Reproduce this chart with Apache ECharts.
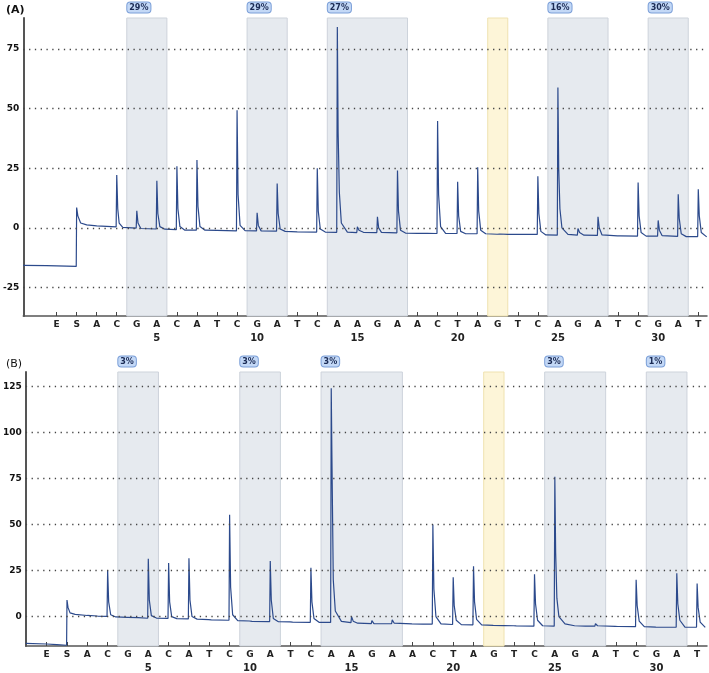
<!DOCTYPE html>
<html>
<head>
    <meta charset="UTF-8">
    <title>Pyrogram A / B</title>
    <script src="https://cdn.jsdelivr.net/npm/echarts@6.0.0/dist/echarts.min.js"></script>
    <style>
        html, body { margin: 0; padding: 0; background: #fff; }
        #pyro { width: 709px; height: 673px; }
    </style>
</head>
<body>
<div id="pyro"></div>
<script type="text/javascript">
    // dispensation order (index 0 = E, 1 = S, then 1..31)
    var seq = ['E','S','A','C','G','A','C','A','T','C','G','A','T','C','A','A','G','A','A','C','T','A','G','T','C','A','G','A','T','C','G','A','T'];
    var seqNumbers = [5, 10, 15, 20, 25, 30];

    // shaded positions
    var bands = [[3.5, 5.5], [9.5, 11.5], [13.5, 17.5], [24.5, 27.5], [29.5, 31.5]];
    var yellowBand = [21.5, 22.5];
    var pctA = ['29%', '29%', '27%', '16%', '30%'];
    var pctB = ['3%', '3%', '3%', '3%', '1%'];

    var gridLinesA = [-25, 0, 25, 50, 75];
    var gridLinesB = [0, 25, 50, 75, 100, 125];

    // trace A, [dispensation position, signal]
    var traceA = [
        [-1.66,-15.8],[-0.5,-15.9],[0.5,-16.1],[0.98,-16.2],[1.0,8.5],[1.06,5],[1.2,2],[1.5,1.2],[2.0,0.8],[2.5,0.6],[2.97,0.4],
        [3.0,22.1],[3.05,8],[3.12,2],[3.3,0.2],[3.97,-0.1],
        [4.0,7.1],[4.06,2],[4.2,-0.3],[4.97,-0.5],
        [5.0,19.7],[5.05,6],[5.15,0.5],[5.4,-0.6],[5.97,-0.8],
        [6.0,25.8],[6.05,8],[6.15,0.5],[6.4,-1],[6.97,-1],
        [7.0,28.4],[7.05,9],[7.15,0.5],[7.4,-1],[8.0,-1.1],[8.97,-1.3],
        [9.0,49.3],[9.05,14],[9.15,1],[9.4,-1.2],[9.97,-1.3],
        [10.0,6.3],[10.06,1],[10.2,-1.3],[10.97,-1.4],
        [11.0,18.6],[11.05,6],[11.15,-0.5],[11.4,-1.5],[12.0,-1.7],[12.97,-1.8],
        [13.0,25],[13.05,7],[13.15,-0.5],[13.4,-1.8],[13.97,-1.9],
        [14.0,84.2],[14.04,40],[14.1,15],[14.2,2],[14.5,-1.8],[14.97,-2],
        [15.0,0.4],[15.08,-1],[15.3,-1.9],[15.97,-2],
        [16.0,4.6],[16.06,0],[16.2,-1.9],[16.97,-2.1],
        [17.0,24],[17.05,7],[17.15,-1],[17.4,-2.2],[18.0,-2.3],[18.5,-2.3],[18.97,-2.4],
        [19.0,44.8],[19.05,14],[19.15,0.5],[19.4,-2.3],[19.97,-2.4],
        [20.0,19.3],[20.05,5],[20.15,-1.5],[20.4,-2.5],[20.97,-2.5],
        [21.0,25.4],[21.05,7],[21.15,-1],[21.4,-2.5],[21.97,-2.7],
        [22.0,-2],[22.1,-2.6],[22.5,-2.8],[23.0,-2.8],[23.5,-2.8],[23.97,-2.8],
        [24.0,21.6],[24.05,6],[24.15,-1.5],[24.4,-3],[24.97,-3.1],
        [25.0,58.8],[25.04,25],[25.1,8],[25.2,0],[25.5,-2.8],[25.97,-3.1],
        [26.0,-0.3],[26.08,-2],[26.3,-3.1],[26.97,-3.2],
        [27.0,4.6],[27.06,0],[27.2,-3],[27.97,-3.4],
        [28.0,-2.7],[28.1,-3.4],[28.97,-3.5],
        [29.0,19],[29.05,5],[29.15,-2],[29.4,-3.5],[29.97,-3.5],
        [30.0,3.1],[30.06,-1],[30.2,-3.3],[30.97,-3.6],
        [31.0,14.1],[31.05,4],[31.15,-2.5],[31.4,-3.7],[31.97,-3.7],
        [32.0,16.2],[32.05,5],[32.15,-2],[32.42,-3.8]
    ];

    // trace B
    var traceB = [
        [-1.03,-14.6],[0,-14.9],[0.5,-15.2],[0.98,-15.6],[1.0,9.0],[1.05,5],[1.15,2],[1.4,1.2],[2.0,0.6],[2.5,0.3],[2.97,0.1],
        [3.0,25.2],[3.05,8],[3.15,1],[3.4,-0.2],[3.97,-0.4],[4.5,-0.6],[4.97,-0.9],
        [5.0,31.5],[5.05,9],[5.15,0.5],[5.4,-0.8],[5.97,-1],
        [6.0,29.1],[6.05,8],[6.15,0],[6.4,-1.1],[6.97,-1.3],
        [7.0,31.7],[7.05,9],[7.15,0],[7.4,-1.4],[7.97,-1.7],
        [8.0,-0.9],[8.1,-1.8],[8.97,-2],
        [9.0,55.4],[9.05,16],[9.15,1],[9.4,-2.2],[9.97,-2.4],
        [10.0,-1.9],[10.1,-2.6],[10.97,-2.7],
        [11.0,30.2],[11.05,9],[11.15,-1],[11.4,-2.8],[11.97,-2.9],
        [12.0,-2.5],[12.1,-3],[12.97,-3.1],
        [13.0,26.6],[13.05,8],[13.15,-1],[13.4,-3.1],[13.97,-3.2],
        [14.0,124.1],[14.03,90],[14.06,60],[14.1,20],[14.2,3],[14.5,-2.6],[14.97,-3.3],
        [15.0,0],[15.08,-2.5],[15.3,-3.6],[15.97,-3.8],
        [16.0,-2.2],[16.1,-3.8],[16.97,-3.9],
        [17.0,-1.8],[17.1,-3.6],[17.97,-4],[18.5,-4.1],[18.97,-4.1],
        [19.0,50],[19.05,15],[19.15,0],[19.4,-4],[19.97,-4.3],
        [20.0,21.4],[20.05,6],[20.15,-2],[20.4,-4.4],[20.97,-4.5],
        [21.0,27.3],[21.05,8],[21.15,-1.5],[21.4,-4.5],[21.97,-4.8],
        [22.5,-4.9],[22.97,-5.0],
        [23.0,-4.5],[23.1,-5.1],[23.97,-5.2],
        [24.0,23],[24.05,7],[24.15,-2],[24.4,-5],[24.97,-5.2],
        [25.0,76.1],[25.04,35],[25.1,10],[25.2,0],[25.5,-4],[25.97,-5],
        [26.5,-5.2],[26.97,-5.2],
        [27.0,-3.8],[27.1,-5],[27.97,-5.3],
        [28.0,-4.3],[28.1,-5.4],[28.97,-5.5],
        [29.0,20],[29.05,6],[29.15,-2.5],[29.4,-5.5],[29.97,-5.7],
        [30.5,-5.8],[30.97,-5.8],
        [31.0,23.6],[31.05,7],[31.15,-2],[31.4,-5.7],[31.97,-5.8],
        [32.0,18],[32.05,5],[32.15,-3],[32.4,-5.9]
    ];

    var chart = echarts.init(document.getElementById('pyro'), null, {renderer: 'canvas'});

    var idx = seq.map(function (s, i) { return i; });
    var font = 'DejaVu Sans';

    function xAxisFor(grid, min, max) {
        return {
            type: 'value', gridIndex: grid, min: min, max: max,
            axisLine: {show: true, onZero: false, lineStyle: {color: '#555', width: 1.5}},
            axisTick: {show: true, inside: true, length: 4, customValues: idx, lineStyle: {color: '#444'}},
            splitLine: {show: false},
            axisLabel: {
                customValues: idx, margin: 3,
                formatter: function (v) {
                    var i = Math.round(v);
                    var s = '{l|' + seq[i] + '}';
                    if (seqNumbers.indexOf(i) >= 0) s += '\n{n|' + i + '}';
                    return s;
                },
                rich: {
                    l: {fontFamily: font, fontSize: 9, fontWeight: 'bold', color: '#222', lineHeight: 12},
                    n: {fontFamily: font, fontSize: 10, fontWeight: 'bold', color: '#222', lineHeight: 14}
                }
            }
        };
    }

    function yAxisFor(grid, min, max, ticks) {
        return {
            type: 'value', gridIndex: grid, min: min, max: max,
            axisLine: {show: true, onZero: false, lineStyle: {color: '#555', width: 2}},
            axisTick: {show: false},
            splitLine: {show: false},
            axisLabel: {customValues: ticks, margin: 4, fontFamily: font, fontSize: 9, fontWeight: 'bold', color: '#111'}
        };
    }

    function bandData(pct) {
        var d = bands.map(function (b, i) {
            return [{xAxis: b[0], name: pct[i]}, {xAxis: b[1]}];
        });
        d.push([{xAxis: yellowBand[0], name: '', itemStyle: {color: '#fdf5d8', borderColor: '#efe2b0'}, label: {show: false}},
                {xAxis: yellowBand[1]}]);
        return d;
    }

    function traceSeries(grid, data, pct, lines) {
        return {
            type: 'line', xAxisIndex: grid, yAxisIndex: grid,
            data: data, showSymbol: false, symbol: 'none', animation: false,
            lineStyle: {color: '#2c4a8c', width: 1.2},
            markArea: {
                silent: true,
                itemStyle: {color: '#e6eaef', borderColor: '#cdd3db', borderWidth: 1},
                label: {
                    show: true, position: [1, -15],
                    fontFamily: font, fontSize: 8, fontWeight: 'bold', color: '#1b2b55',
                    backgroundColor: '#c3d8f6', borderColor: '#7b9fd8', borderWidth: 1,
                    borderRadius: 3, padding: [1, 2, 0, 2], lineHeight: 9
                },
                data: bandData(pct)
            },
            markLine: {
                silent: true, symbol: ['none', 'none'],
                label: {show: false},
                lineStyle: {color: '#444', width: 1.3, type: [1.3, 4.5]},
                data: lines.map(function (v) { return {yAxis: v}; })
            }
        };
    }

    var option = {
        backgroundColor: '#fff',
        animation: false,
        title: [
            {text: '(A)', left: 1, top: 0, textStyle: {fontFamily: font, fontSize: 11, fontWeight: 'bold', color: '#111'}},
            {text: '(B)', left: 1, top: 354, textStyle: {fontFamily: font, fontSize: 11, fontWeight: 'normal', color: '#111'}}
        ],
        grid: [
            {left: 22, right: 2, top: 18, height: 298},
            {left: 22, right: 2, top: 372, height: 276}
        ],
        xAxis: [xAxisFor(0, -1.662, 32.435), xAxisFor(1, -1.027, 32.486)],
        yAxis: [yAxisFor(0, -37, 88, gridLinesA), yAxisFor(1, -16, 133, gridLinesB)],
        series: [
            traceSeries(0, traceA, pctA, gridLinesA),
            traceSeries(1, traceB, pctB, gridLinesB)
        ]
    };

    chart.setOption(option);
</script>
</body>
</html>
